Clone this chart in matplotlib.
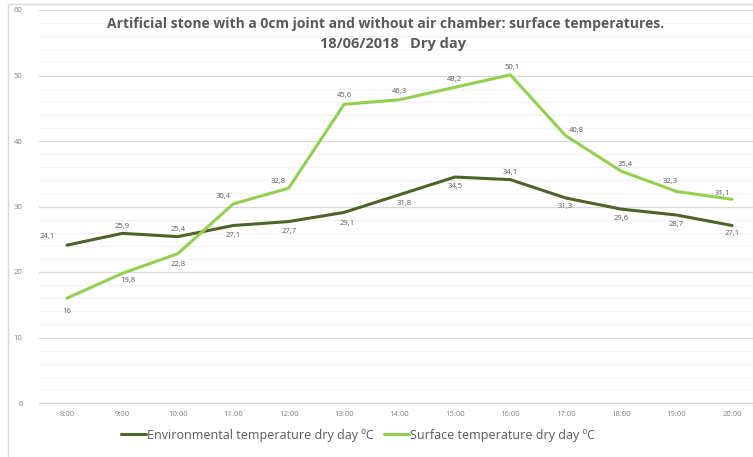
import matplotlib.pyplot as plt
from matplotlib.patches import Rectangle
from matplotlib.ticker import MultipleLocator

plt.rcParams['font.family'] = ['Open Sans', 'DejaVu Sans']

hours = ['8:00', '9:00', '10:00', '11:00', '12:00', '13:00', '14:00',
         '15:00', '16:00', '17:00', '18:00', '19:00', '20:00']
env_temp = [24.1, 25.9, 25.4, 27.1, 27.7, 29.1, 31.8, 34.5, 34.1, 31.3, 29.6, 28.7, 27.1]
surf_temp = [16, 19.8, 22.8, 30.4, 32.8, 45.6, 46.3, 48.2, 50.1, 40.8, 35.4, 32.3, 31.1]

# label offsets in pixels (dx, dy), positive dy = up
env_off = [(-20, 9), (0, 7), (0, 7), (0, -10), (0, -10), (3, -11), (5, -9),
           (0, -9), (0, 7), (0, -9), (0, -9), (0, -9), (0, -8)]
surf_off = [(0, -13), (5, -7), (0, -11), (-10, 7), (-10, 7), (0, 9), (0, 8),
            (0, 8), (2, 7), (11, 5), (4, 7), (-6, 10), (-10, 6)]

env_color = '#4F6228'
surf_color = '#92D050'
text_gray = '#595959'

fig = plt.figure(figsize=(7.53, 4.57), dpi=100)
W, H = 753, 457
ax = fig.add_axes([39.3 / W, (H - 403) / H, 720.4 / W, 393 / H])

x = list(range(len(hours)))
ax.plot(x, env_temp, color=env_color, lw=2.2, solid_capstyle='round',
        label='Environmental temperature dry day ºC', zorder=3)
ax.plot(x, surf_temp, color=surf_color, lw=2.2, solid_capstyle='round',
        label='Surface temperature dry day ºC', zorder=4)

px = 0.72
for xi, v, (dx, dy) in zip(x, env_temp, env_off):
    ax.annotate(('%g' % v).replace('.', ','), (xi, v), xytext=(dx * px, dy * px),
                textcoords='offset points', ha='center', va='center',
                fontsize=5.5, color=text_gray)
for xi, v, (dx, dy) in zip(x, surf_temp, surf_off):
    ax.annotate(('%g' % v).replace('.', ','), (xi, v), xytext=(dx * px, dy * px),
                textcoords='offset points', ha='center', va='center',
                fontsize=5.5, color=text_gray)

ax.set_xlim(-0.5, len(hours) - 0.5)
ax.set_ylim(0, 60)
ax.set_xticks(x)
ax.set_xticklabels(hours)
ax.yaxis.set_major_locator(MultipleLocator(10))
ax.yaxis.set_minor_locator(MultipleLocator(2))
ax.grid(axis='y', which='major', color='#D9D9D9', lw=0.9)
ax.grid(axis='y', which='minor', color='#F2F2F2', lw=0.9)
ax.set_axisbelow(True)
ax.tick_params(axis='both', which='both', length=0, labelsize=5.5,
               labelcolor='#808080')
ax.tick_params(axis='x', pad=6)
ax.tick_params(axis='y', pad=12)
for s in ['top', 'right', 'left']:
    ax.spines[s].set_visible(False)
ax.spines['bottom'].set_color('#D9D9D9')
ax.spines['bottom'].set_linewidth(0.9)

fig.text(386 / W, 1 - 24 / H, 'Artificial stone with a 0cm joint and without air chamber: surface temperatures.',
         ha='center', va='center', fontsize=10, fontweight='bold', color=text_gray)
fig.text(393 / W, 1 - 44 / H, '18/06/2018   Dry day',
         ha='center', va='center', fontsize=10.5, fontweight='bold', color=text_gray)

fig.legend(loc='center', bbox_to_anchor=(358 / W, 1 - 435 / H), ncol=2,
           frameon=False, fontsize=9, handlelength=2.0, handletextpad=0.1,
           columnspacing=0.8, labelcolor=text_gray)

fig.patches.append(Rectangle((8 / W, -0.1), 1.2, (H - 4) / H + 0.1, transform=fig.transFigure,
                             fill=False, edgecolor='#D9D9D9', lw=1.0, zorder=0))

fig.savefig('out.png', dpi=100)
